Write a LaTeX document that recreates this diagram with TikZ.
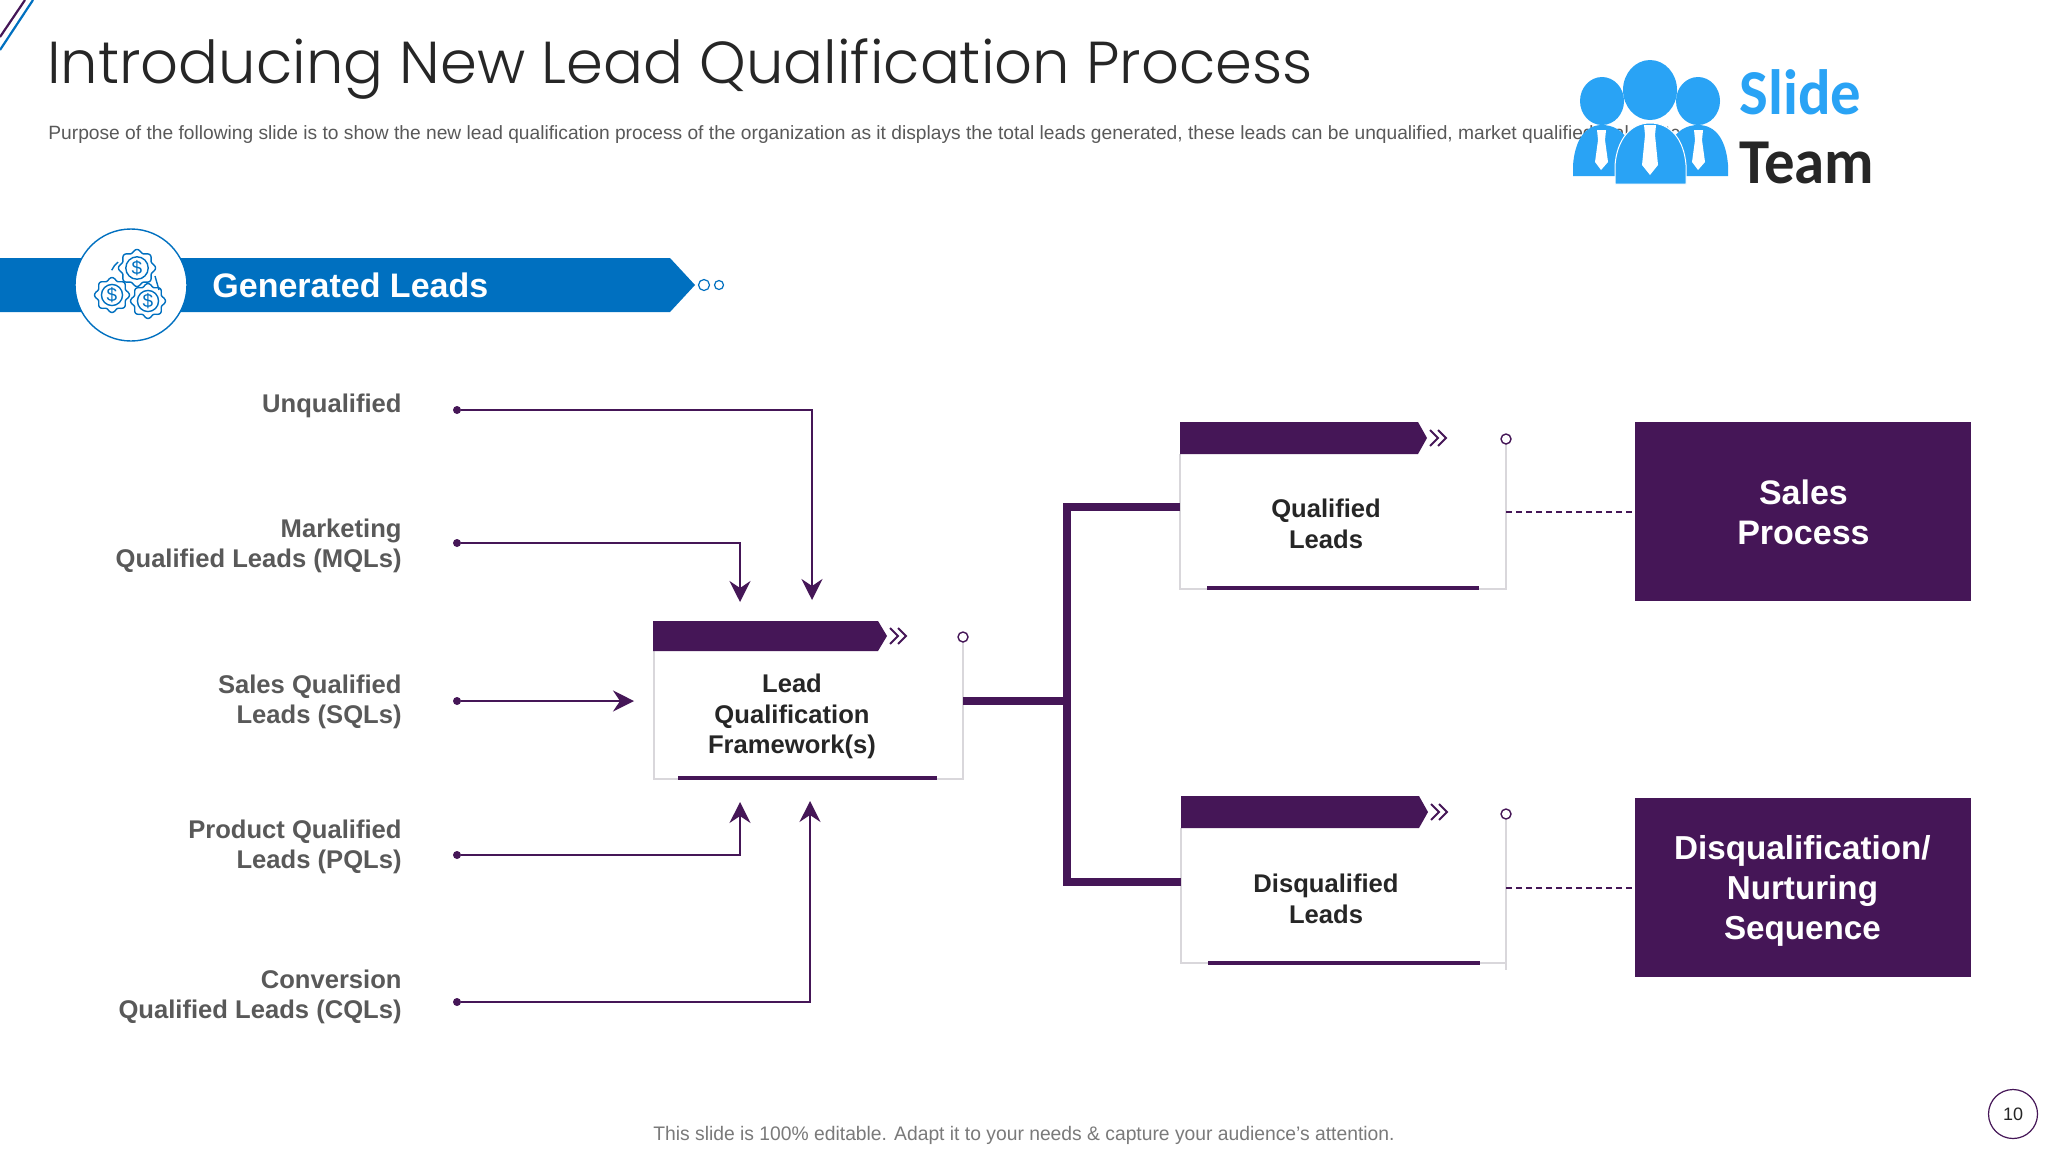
\documentclass[tikz,border=0pt]{standalone}
\usepackage{fontspec}
\usetikzlibrary{arrows.meta,calc}
\setmainfont{Liberation Sans}
\newfontfamily\titlefont{Poppins Light}
\newfontfamily\logofont{Carlito}
\definecolor{plum}{HTML}{451657}
\definecolor{bannerblue}{HTML}{0070C0}
\definecolor{logoblue}{HTML}{29A3F5}
\definecolor{inktext}{HTML}{262626}
\definecolor{greytext}{HTML}{595959}
\definecolor{paleline}{HTML}{D9D7DB}
\tikzset{
  x=0.5pt,y=-0.5pt,
  sidelabel/.style={anchor=east,align=right,inner sep=0pt,text=greytext,font=\fontsize{12.8}{15}\selectfont\bfseries},
  boxtext/.style={align=center,inner sep=0pt,text=inktext,font=\fontsize{12.8}{15.3}\selectfont\bfseries},
  bigtext/.style={align=center,inner sep=0pt,text=white,font=\fontsize{17}{20}\selectfont\bfseries},
  startdot/.style={circle,fill=plum,inner sep=0pt,minimum size=4pt},
  feed/.style={draw=plum,line width=0.9pt,-{Stealth[length=10.5pt,width=10.5pt,inset=3.5pt]}},
  trunkline/.style={draw=plum,line width=4pt,miter limit=10},
  dashline/.style={draw=plum,line width=0.7pt,dash pattern=on 3pt off 2pt},
  boxedge/.style={draw=paleline,line width=0.6pt},
  baseline bar/.style={draw=plum,line width=2pt},
  header/.style={fill=plum},
  chev/.style={draw=plum,line width=1pt},
  ring/.style={circle,draw=plum,fill=white,line width=0.7pt,inner sep=0pt,minimum size=5pt},
  gear/.style={draw=bannerblue,line width=0.7pt},
  purplebox/.style={fill=plum,inner sep=0pt},
}
\newcommand{\moneygear}[3]{%
  \draw[gear] plot[domain=0:360,samples=97,smooth] ({#1+#3*(1+0.09*cos(8*\x))*cos(\x)},{#2+#3*(1+0.09*cos(8*\x))*sin(\x)}) -- cycle;
  \draw[gear] (#1,#2) circle ({#3*0.66});
  \node[inner sep=0pt,text=bannerblue,font=\fontsize{9.5}{10}\selectfont] (gear#1) at (#1,#2) {\$};
}
\newcommand{\headerbar}[4]{% left, right-shoulder, top, bottom
  \fill[header] (#1,#3) -- (#2,#3) -- ({#2+9},{(#3+#4)/2}) -- (#2,#4) -- (#1,#4) -- cycle;
  \foreach \d in {0,8} {
    \draw[chev] ({#2+12+\d},{(#3+#4)/2-8}) -- ({#2+20+\d},{(#3+#4)/2}) -- ({#2+12+\d},{(#3+#4)/2+8});
  }
}
\begin{document}
\begin{tikzpicture}
\useasboundingbox (0,0) rectangle (2048,1152);
\fill[white] (0,0) rectangle (2048,1152);
% corner lines
\draw[plum,line width=1.1pt] (0,37) -- (25,0);
\draw[bannerblue,line width=1.1pt] (0,50) -- (33,0);
% title
\node[anchor=west,inner sep=0pt,text=inktext] (title) at (47,69.5) {\titlefont\fontsize{29.6}{34}\selectfont Introducing New Lead Qualification Process};
\node[anchor=west,inner sep=0pt,text=greytext] (subtitle) at (48,135) {\fontsize{9.6}{11}\selectfont Purpose of the following slide is to show the new lead qualification process of the organization as it displays the total leads generated, these leads can be unqualified, market qualified, sales etc.};
% logo
\fill[logoblue] (1573,176) -- (1573,165) .. controls (1575,140) and (1585,125) .. (1602,125) .. controls (1612,125) and (1625,130) .. (1630,145) -- (1630,176) -- cycle;
\fill[logoblue] (1728,176) -- (1728,165) .. controls (1726,140) and (1716,125) .. (1698,125) .. controls (1688,125) and (1675,130) .. (1670,145) -- (1670,176) -- cycle;
\fill[logoblue] (1602,101) ellipse (22 and 24);
\fill[logoblue] (1698,101) ellipse (22 and 24);
\filldraw[fill=logoblue,draw=white,line width=0.5pt] (1615,184) -- (1615,165) .. controls (1617,140) and (1630,123) .. (1650,123) .. controls (1671,123) and (1684,140) .. (1686,165) -- (1686,184) -- cycle;
\fill[logoblue] (1650,90) ellipse (27 and 30);
\fill[white] (1644,125) -- (1656,125) -- (1655,135) -- (1658,165) -- (1650,175) -- (1642,165) -- (1645,135) -- cycle;
\fill[white] (1597,130) -- (1606,130) -- (1605,140) -- (1608,162) -- (1601,170) -- (1595,162) -- (1598,140) -- cycle;
\fill[white] (1694,130) -- (1703,130) -- (1702,140) -- (1705,162) -- (1698,170) -- (1692,162) -- (1695,140) -- cycle;
\node[anchor=base west,inner sep=0pt,text=logoblue] (logoslide) at (1739,114) {\logofont\bfseries\fontsize{32}{34}\selectfont\scalebox{0.95}[1]{Slide}};
\node[anchor=base west,inner sep=0pt,text=inktext] (logoteam) at (1739,183) {\logofont\bfseries\fontsize{32}{34}\selectfont\scalebox{0.95}[1]{Team}};
% banner
\fill[bannerblue] (0,258) -- (670,258) -- (695,285) -- (670,312) -- (0,312) -- cycle;
\node[circle,draw=bannerblue,fill=white,line width=0.7pt,minimum size=56pt,inner sep=0pt] (badge) at (131,285) {};
\draw[gear] (118,262) arc (230:205:24);
\draw[gear] (155,276) -- (159,290);
\moneygear{137}{268}{17}
\moneygear{112}{295}{16}
\moneygear{148}{301}{16}
\node[anchor=west,inner sep=0pt,text=white,font=\fontsize{17}{20}\selectfont\bfseries] (bannertext) at (212,285) {Generated Leads};
\node[circle,draw=bannerblue,line width=0.6pt,inner sep=0pt,minimum size=5.5pt] (bdot1) at (704,285) {};
\node[circle,draw=bannerblue,line width=0.6pt,inner sep=0pt,minimum size=4.5pt] (bdot2) at (719,285) {};
% side labels
\node[sidelabel] (lu) at (402,405.5) {Unqualified};
\node[sidelabel] (lm) at (402,545.5) {Marketing\\Qualified Leads (MQLs)};
\node[sidelabel] (ls) at (402,701.5) {Sales Qualified\\Leads (SQLs)};
\node[sidelabel] (lp) at (402,846.5) {Product Qualified\\Leads (PQLs)};
\node[sidelabel] (lc) at (402,997) {Conversion\\Qualified Leads (CQLs)};
% start dots
\node[startdot] (du) at (457,410) {};
\node[startdot] (dm) at (457,543) {};
\node[startdot] (ds) at (457,701) {};
\node[startdot] (dp) at (457,855) {};
\node[startdot] (dc) at (457,1002) {};
% arrow ends
\coordinate (au) at (812,600);
\coordinate (am) at (740,602);
\coordinate (as) at (634,701);
\coordinate (ap) at (740,802);
\coordinate (ac) at (810,801);
\draw[feed] (du) -| (au);
\draw[feed] (dm) -| (am);
\draw[feed] (ds) -- (as);
\draw[feed] (dp) -| (ap);
\draw[feed] (dc) -| (ac);
% framework box
\draw[boxedge] (654,651) -- (654,779) -- (963,779) -- (963,642);
\draw[baseline bar] (678,778) -- (937,778);
\headerbar{653}{878}{621}{651}
\node[ring] (rl) at (963,637) {};
\node[boxtext] (lqf) at (792,716.5) {Lead\\Qualification\\Framework(s)};
% qualified box
\draw[boxedge] (1180,454) -- (1180,589) -- (1506,589) -- (1506,444);
\draw[baseline bar] (1207,588) -- (1479,588);
\headerbar{1180}{1418}{422}{454}
\node[ring] (rq) at (1506,439) {};
\node[boxtext] (qual) at (1326,524) {Qualified\\Leads};
% disqualified box
\draw[boxedge] (1181,828) -- (1181,963) -- (1506,963);
\draw[boxedge] (1506,820) -- (1506,970);
\draw[baseline bar] (1208,963) -- (1480,963);
\headerbar{1181}{1419}{796}{828}
\node[ring] (rd) at (1506,814) {};
\node[boxtext] (disq) at (1326,899) {Disqualified\\Leads};
% trunk
\coordinate (lqfout) at (963,701);
\coordinate (jm) at (1067,701);
\coordinate (qin) at (1180,507);
\coordinate (dqin) at (1181,882);
\draw[trunkline] (qin) -| (jm) |- (dqin);
\draw[trunkline] (lqfout) -- (jm);
% outcome boxes
\node[purplebox,minimum width=168pt,minimum height=89.5pt,anchor=north west] (salesbox) at (1635,422) {};
\node[bigtext] (salestext) at (salesbox.center) {Sales\\Process};
\node[purplebox,minimum width=168pt,minimum height=89.5pt,anchor=north west] (disbox) at (1635,798) {};
\node[bigtext,font=\fontsize{16.6}{20.2}\selectfont\bfseries] (distext) at ($(disbox.center)+(-1,3)$) {Disqualification/\\Nurturing\\Sequence};
\coordinate (qout) at (1506,512);
\coordinate (dout) at (1506,888);
\draw[dashline] (qout) -- (qout -| salesbox.west);
\draw[dashline] (dout) -- (dout -| disbox.west);
% footer
\node[inner sep=0pt,text=greytext!80] (footer) at (1024,1135) {\fontsize{9.8}{12}\selectfont\scalebox{0.984}[1]{This slide is 100\% editable. Adapt it to your needs \& capture your audience's attention.}};
\node[circle,draw=plum,line width=0.6pt,minimum size=24.5pt,inner sep=0pt,font=\fontsize{9}{10}\selectfont,text=inktext] (pagenum) at (2013,1114) {10};
\end{tikzpicture}
\end{document}
